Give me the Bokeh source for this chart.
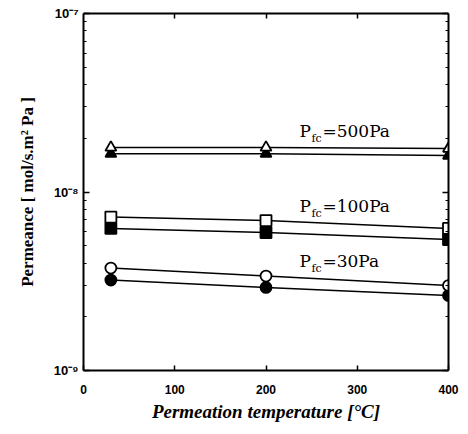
from bokeh.plotting import figure
from bokeh.models import LogAxis, LinearAxis, Label, FixedTicker, CustomJSTickFormatter
from bokeh.embed import file_html
from bokeh.resources import INLINE

# ---- data ----
temps = [30, 200, 400]
open_500 = [1.775e-8, 1.775e-8, 1.75e-8]
filled_500 = [1.64e-8, 1.64e-8, 1.60e-8]
open_100 = [7.24e-9, 6.92e-9, 6.25e-9]
filled_100 = [6.25e-9, 5.93e-9, 5.42e-9]
open_30 = [3.75e-9, 3.38e-9, 2.99e-9]
filled_30 = [3.21e-9, 2.92e-9, 2.63e-9]

x_ticks = [0, 100, 200, 300, 400]
y_ticks = [1e-9, 1e-8, 1e-7]
y_minor = [m * 1e-9 for m in range(2, 10)] + [m * 1e-8 for m in range(2, 10)]
y_tick_labels = {1e-9: "10⁻⁹", 1e-8: "10⁻⁸", 1e-7: "10⁻⁷"}

labels = [("500Pa", 1.94e-8), ("100Pa", 7.38e-9), ("30Pa", 3.59e-9)]
label_x = 236.7

p = figure(width=460, height=426, x_range=(0, 400), y_range=(1e-9, 1e-7),
           y_axis_type="log", output_backend="svg", toolbar_location=None,
           min_border_left=83, min_border_right=12, min_border_top=13,
           min_border_bottom=56)
p.grid.visible = False
p.outline_line_color = None
p.background_fill_color = "white"
p.border_fill_color = "white"

tick_font = "Liberation Sans"
blank = CustomJSTickFormatter(code="return ''")

# bottom axis
xa = p.xaxis[0]
xa.ticker = FixedTicker(ticks=x_ticks)
xa.major_tick_in = 5
xa.major_tick_out = 0
xa.minor_tick_line_color = None
xa.axis_line_width = 2
xa.major_tick_line_width = 1.5
xa.major_label_text_font = tick_font
xa.major_label_text_font_style = "bold"
xa.major_label_text_font_size = "12px"
xa.major_label_text_color = "black"
xa.major_label_standoff = 14
xa.axis_label = "Permeation temperature [°C]"
xa.axis_label_text_font = "Liberation Serif"
xa.axis_label_text_font_style = "bold italic"
xa.axis_label_text_font_size = "19px"
xa.axis_label_text_color = "black"
xa.axis_label_standoff = 4

# left axis
ya = p.yaxis[0]
ya.ticker = FixedTicker(ticks=y_ticks, minor_ticks=y_minor)
ya.major_label_overrides = y_tick_labels
ya.major_tick_in = 6
ya.major_tick_out = 0
ya.minor_tick_in = 3
ya.minor_tick_out = 0
ya.axis_line_width = 2
ya.major_tick_line_width = 1.5
ya.minor_tick_line_width = 1.2
ya.major_label_text_font = tick_font
ya.major_label_text_font_style = "bold"
ya.major_label_text_font_size = "13px"
ya.major_label_text_color = "black"
ya.major_label_standoff = 5
ya.axis_label = "Permeance [ mol/s.m² Pa ]"
ya.axis_label_text_font = "Liberation Serif"
ya.axis_label_text_font_style = "bold"
ya.axis_label_text_font_size = "17px"
ya.axis_label_text_color = "black"
ya.axis_label_standoff = 14

# top axis
top = LinearAxis(ticker=FixedTicker(ticks=[100, 200, 300]), formatter=blank,
                 major_tick_in=5, major_tick_out=0, minor_tick_line_color=None,
                 axis_line_width=2, major_tick_line_width=1.5,
                 major_label_standoff=0)
p.add_layout(top, "above")

# right axis
right = LogAxis(ticker=FixedTicker(ticks=y_ticks, minor_ticks=y_minor),
                formatter=blank, major_tick_in=6, major_tick_out=0,
                minor_tick_in=3, minor_tick_out=0, axis_line_width=2,
                major_tick_line_width=1.5, minor_tick_line_width=1.2,
                major_label_standoff=0)
p.add_layout(right, "right")

lw = 1.5
ms = 11
series = [
    (filled_500, "triangle", "black"),
    (filled_100, "square", "black"),
    (filled_30, "circle", "black"),
    (open_500, "triangle", "white"),
    (open_100, "square", "white"),
    (open_30, "circle", "white"),
]
for vals, marker, fill in series:
    p.line(temps, vals, line_color="black", line_width=lw)
for vals, marker, fill in series:
    p.scatter(temps, vals, marker=marker, size=ms, fill_color=fill,
              line_color="black", line_width=1.8)

for txt, yv in labels:
    p.add_layout(Label(x=label_x, y=yv, text="P", text_font="DejaVu Serif",
                       text_font_size="17px", text_color="black"))
    p.add_layout(Label(x=label_x, y=yv, x_offset=12, y_offset=-4, text="fc",
                       text_font="DejaVu Serif", text_font_size="11px",
                       text_color="black"))
    p.add_layout(Label(x=label_x, y=yv, x_offset=23, text="=" + txt,
                       text_font="DejaVu Serif", text_font_size="17px",
                       text_color="black"))

open("out.html", "w").write(file_html(p, INLINE))
